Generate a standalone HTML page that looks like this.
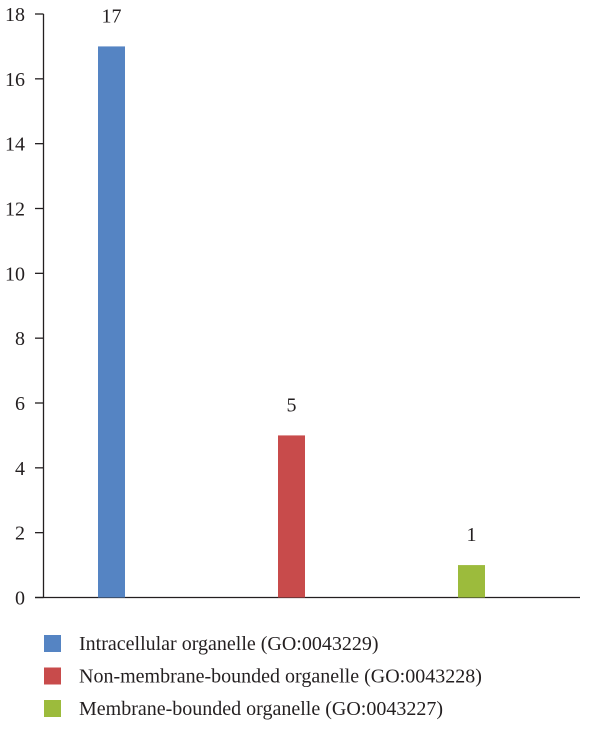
<!DOCTYPE html>
<html><head><meta charset="utf-8"><style>
html,body{margin:0;padding:0;background:#fff;}
svg text{font-family:"Liberation Serif",serif;fill:#231f20;}
</style></head><body>
<svg width="600" height="727" viewBox="0 0 600 727">
<g id="axes"></g><g id="bars"></g><g id="legend"></g>
</svg>
<script>
const categories=["Intracellular organelle (GO:0043229)","Non-membrane-bounded organelle (GO:0043228)","Membrane-bounded organelle (GO:0043227)"];
const values=[17,5,1];
const valueLabels=["17","5","1"];
const colors=["#5584c3","#c84b4b","#9cbb3c"];
const yTicks=[0,2,4,6,8,10,12,14,16,18];
const NS="http://www.w3.org/2000/svg";
const y0=597.5,yTop=14,yMax=18;
function y(v){return y0-(v/yMax)*(y0-yTop);}
function xc(i){return 111.5+i*180;}
function mk(tag,attrs,parent){const e=document.createElementNS(NS,tag);for(const k in attrs)e.setAttribute(k,attrs[k]);parent.appendChild(e);return e;}
const axes=document.getElementById('axes'),bars=document.getElementById('bars'),legend=document.getElementById('legend');
const ax=mk('line',{x1:43.5,y1:yTop,x2:43.5,y2:y0,stroke:'#231f20','stroke-width':1.3},axes);


const bx=mk('line',{x1:35,y1:y0,x2:580,y2:y0,stroke:'#231f20','stroke-width':1.3},axes);


yTicks.forEach(t=>{
  const l=mk('line',{x1:35,y1:y(t),x2:43.5,y2:y(t),stroke:'#231f20','stroke-width':1.3},axes);
  
  
  const tx=mk('text',{x:25,y:y(t)+7,'text-anchor':'end','font-size':20},axes);
  tx.textContent=t;
  
  
});
values.forEach((v,i)=>{
  const r=mk('rect',{x:xc(i)-13.5,y:y(v),width:27,height:y0-y(v),fill:colors[i]},bars);
  
  
  const t=mk('text',{x:xc(i),y:y(v)-24,'text-anchor':'middle','font-size':20},bars);
  t.textContent=valueLabels[i];
  
  
  const sq=mk('rect',{x:44,y:635+i*32.5,width:17,height:17,fill:colors[i]},legend);
  
  
  const lt=mk('text',{x:79,y:650+i*32.5,'font-size':20},legend);
  lt.textContent=categories[i];
  
  
});
</script>
</body></html>
